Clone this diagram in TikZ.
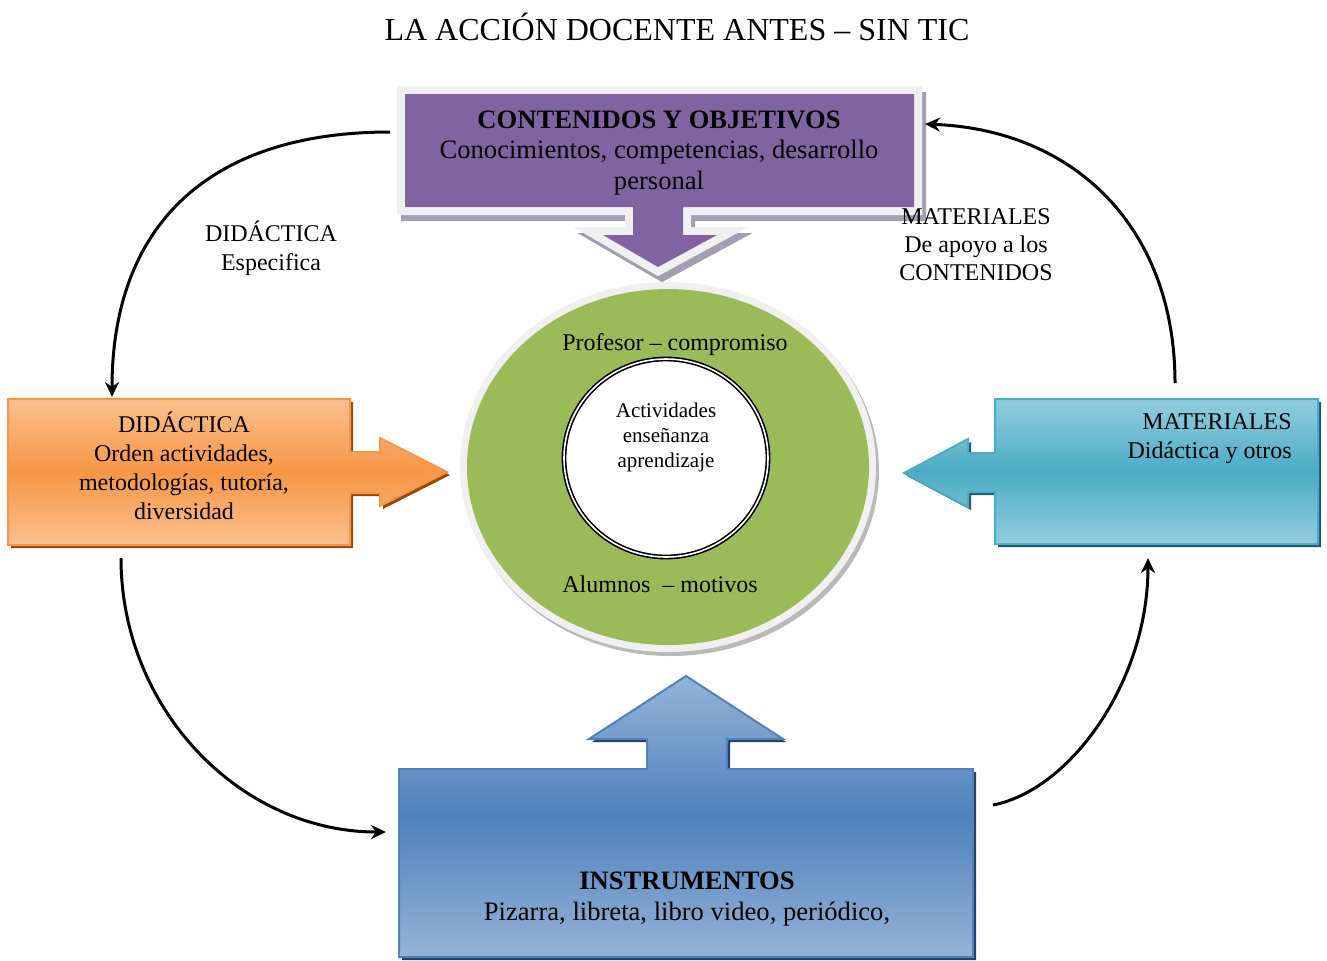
\documentclass[tikz,border=0pt]{standalone}
\usepackage{fontspec}
\setmainfont{Liberation Serif}
\usetikzlibrary{arrows.meta,calc}
\definecolor{contcolor}{HTML}{8064A2}
\definecolor{contshadow}{HTML}{A59EB2}
\definecolor{ringcolor}{HTML}{F0F0F0}
\definecolor{didacolor}{HTML}{F79646}
\definecolor{didalight}{HTML}{FAC08F}
\definecolor{didashadow}{HTML}{984807}
\definecolor{matecolor}{HTML}{4BACC6}
\definecolor{matelight}{HTML}{93CDDD}
\definecolor{mateshadow}{HTML}{215968}
\definecolor{instcolor}{HTML}{4F81BD}
\definecolor{instlight}{HTML}{95B3D7}
\definecolor{instshadow}{HTML}{243F60}
\definecolor{activcolor}{HTML}{9BBB59}
\newcommand{\ringwidth}{8pt}
\newcommand{\boxline}{1pt}

\begin{document}
\begin{tikzpicture}[x=0.5pt, y=-0.5pt, line join=miter,
  flow/.style={line width=1.5pt, -{Stealth[length=7.5pt,width=7pt]}},
  boxtext/.style={align=center, inner sep=0pt, font=\fontsize{12}{14.5}\selectfont},
  bigtext/.style={align=center, inner sep=0pt, font=\fontsize{13.3}{15.2}\selectfont},
  linetext/.style={anchor=base, inner sep=0pt, font=\fontsize{12}{14.5}\selectfont}]
\useasboundingbox (0,0) rectangle (1327,960);
\node[anchor=base, inner sep=0pt, font=\fontsize{16}{19}\selectfont] (title) at (677,40) {LA ACCIÓN DOCENTE ANTES – SIN TIC};
%actividades
\fill[gray!55] (671,471) ellipse [x radius=208, y radius=185];
\fill[ringcolor] (668,467) ellipse [x radius=208, y radius=185];
\fill[activcolor] (668,467) ellipse [x radius=201, y radius=178];
\draw[line width=0.8pt, double=white, double distance=0.8pt, fill=white] (666,458) ellipse [x radius=102, y radius=99];
\node[linetext] (prof) at (675,350) {Profesor – compromiso};
\node[linetext] (alum) at (660,592) {Alumnos\ \ – motivos};
\node[boxtext, font=\fontsize{10.5}{12.5}\selectfont] (activ) at (666,437) {Actividades\\enseñanza\\aprendizaje};
%contenidos
\path[fill=contshadow, draw=contshadow, line width=\ringwidth, shift={(4,6)}] (405,94) -- (914,94) -- (914,207) -- (683,207) -- (683,235) -- (717,235) -- (658,267) -- (603,235) -- (633,235) -- (633,207) -- (405,207) -- cycle;
\path[fill=contcolor, preaction={draw=ringcolor, line width=\ringwidth}] (405,94) -- (914,94) -- (914,207) -- (683,207) -- (683,235) -- (717,235) -- (658,267) -- (603,235) -- (633,235) -- (633,207) -- (405,207) -- cycle;
\node[bigtext] (contT) at (659,153) {\textbf{CONTENIDOS Y OBJETIVOS}\\Conocimientos, competencias, desarrollo\\personal};
%didactica
\path[fill=didashadow, shift={(3,3)}] (8,399) -- (350,399) -- (350,452) -- (380,452) -- (380,438) -- (447,472) -- (380,506) -- (380,493) -- (350,493) -- (350,545) -- (8,545) -- cycle;
\path[draw=didacolor, line width=\boxline, top color=didalight, bottom color=didalight, middle color=didacolor] (8,399) -- (350,399) -- (350,452) -- (380,452) -- (380,438) -- (447,472) -- (380,506) -- (380,493) -- (350,493) -- (350,545) -- (8,545) -- cycle;
\node[boxtext] (didaT) at (184,466) {DIDÁCTICA\\Orden actividades,\\metodologías, tutoría,\\diversidad};
%materiales
\path[fill=mateshadow, shift={(3,3)}] (995,399) -- (1318,399) -- (1318,544) -- (995,544) -- (995,492) -- (968,492) -- (968,507) -- (904,473) -- (968,439) -- (968,453) -- (995,453) -- cycle;
\path[draw=matecolor, line width=\boxline, top color=matelight, bottom color=matelight, middle color=matecolor] (995,399) -- (1318,399) -- (1318,544) -- (995,544) -- (995,492) -- (968,492) -- (968,507) -- (904,473) -- (968,439) -- (968,453) -- (995,453) -- cycle;
\node[boxtext, align=right, anchor=east] (mateT) at (1292,439) {MATERIALES\\Didáctica y otros};
%instrumentos
\path[fill=instshadow, shift={(3,3)}] (399,769) -- (647,769) -- (647,739) -- (589,739) -- (686,676) -- (783,739) -- (727,739) -- (727,769) -- (973,769) -- (973,957) -- (399,957) -- cycle;
\path[draw=instcolor, line width=\boxline, top color=instlight, bottom color=instlight, middle color=instcolor] (399,769) -- (647,769) -- (647,739) -- (589,739) -- (686,676) -- (783,739) -- (727,739) -- (727,769) -- (973,769) -- (973,957) -- (399,957) -- cycle;
\node[bigtext] (instT) at (687,899) {\textbf{INSTRUMENTOS}\\Pizarra, libreta, libro video, periódico,};
%labels
\node[boxtext] (didaL) at (271,248) {DIDÁCTICA\\Especifica};
\node[boxtext, font=\fontsize{12}{14}\selectfont] (mateL) at (976,245) {MATERIALES\\De apoyo a los\\CONTENIDOS};
%flows
\coordinate (contW) at (390,132);
\coordinate (didaN) at (112,397);
\coordinate (didaS) at (121,558);
\coordinate (instW) at (386,832);
\coordinate (instE) at (993,805);
\coordinate (mateS) at (1148,558);
\coordinate (mateN) at (1175,383);
\coordinate (contE) at (925,124);
\draw[flow] (contW) .. controls (209,132) and (112,225) .. (didaN);
\draw[flow] (didaS) .. controls (121,709) and (240,832) .. (instW);
\draw[flow] (instE) .. controls (1070,790) and (1148,682) .. (mateS);
\draw[flow] (mateN) .. controls (1175,228) and (1075,130) .. (contE);
\end{tikzpicture}
\end{document}
